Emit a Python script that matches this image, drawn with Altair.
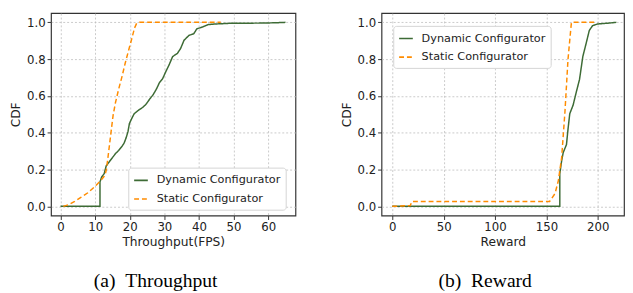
import altair as alt
import pandas as pd

series_names = ["Dynamic Configurator", "Static Configurator"]
line_colors = ["#3d6b35", "#ff8c00"]

# (a) Throughput panel
thr_dyn_x = [0, 11.4, 11.4, 11.9, 12.6, 13.2, 14.0, 15.0, 15.9, 16.8, 17.8, 18.4, 19.0, 19.5,
             19.9, 20.6, 21.3, 22.5, 23.9, 24.8, 25.8, 26.7, 27.7, 28.6, 29.5, 30.5, 31.4,
             32.4, 33.8, 34.7, 35.7, 37.1, 38.5, 39.4, 40.8, 42.7, 44.6, 49.3, 58.7, 62.5, 65.0]
thr_dyn_y = [0, 0, 0.133, 0.16, 0.177, 0.22, 0.24, 0.265, 0.287, 0.304, 0.327, 0.345, 0.375, 0.407,
             0.45, 0.478, 0.504, 0.522, 0.54, 0.557, 0.584, 0.605, 0.637, 0.673, 0.694, 0.735, 0.77,
             0.814, 0.832, 0.858, 0.903, 0.929, 0.938, 0.965, 0.973, 0.988, 0.991, 0.995, 0.996, 0.998, 1.0]
thr_sta_x = [0.8, 2.3, 4.1, 6.0, 7.9, 9.8, 11.7, 12.8, 13.2, 13.7, 14.5, 15.2, 15.9, 16.8,
             17.8, 18.7, 19.7, 20.6, 21.4, 22.0, 22.8, 46.3]
thr_sta_y = [0, 0.009, 0.027, 0.05, 0.074, 0.106, 0.142, 0.168, 0.195, 0.265, 0.389, 0.496, 0.566, 0.637,
             0.708, 0.779, 0.85, 0.912, 0.97, 0.995, 1.0, 1.0]

# (b) Reward panel
rew_dyn_x = [0, 163.0, 163.0, 164.8, 166.3, 169.5, 171.1, 172.7, 175.9, 179.0, 182.2, 185.4,
             188.6, 191.7, 194.9, 199.7, 210.8, 218.0]
rew_dyn_y = [0, 0, 0.177, 0.248, 0.292, 0.336, 0.425, 0.504, 0.549, 0.62, 0.69, 0.814,
             0.885, 0.956, 0.982, 0.991, 0.996, 1.0]
rew_sta_x = [0, 17.5, 19.0, 153.0, 158.4, 161.6, 164.8, 168.0, 171.0, 174.3, 198.0]
rew_sta_y = [0, 0.004, 0.026, 0.026, 0.07, 0.14, 0.265, 0.513, 0.8, 1.0, 1.0]

thr_ticks = [0, 10, 20, 30, 40, 50, 60]
rew_ticks = [0, 50, 100, 150, 200]
cdf_ticks = [0, 0.2, 0.4, 0.6, 0.8, 1.0]


def make_frame(dx, dy, sx, sy):
    rows = []
    for i, (x, y) in enumerate(zip(dx, dy)):
        rows.append({"x": x, "y": y, "series": series_names[0], "order": i})
    for i, (x, y) in enumerate(zip(sx, sy)):
        rows.append({"x": x, "y": y, "series": series_names[1], "order": i})
    return pd.DataFrame(rows)


def panel(df, xtitle, xticks, xdomain, width, caption, lx, ly):
    leg = alt.Legend(
        title=None, orient="none", legendX=lx, legendY=ly,
        symbolType="stroke", symbolSize=196, symbolStrokeWidth=1.6,
        labelFont="DejaVu Sans", labelFontSize=11.5, labelColor="#222",
        labelOffset=8, padding=5, rowPadding=5,
        strokeColor="#d4d4d4", fillColor="white", cornerRadius=3,
    )
    return alt.Chart(df).mark_line(strokeWidth=1.5, clip=True).encode(
        x=alt.X("x:Q", title=xtitle,
                scale=alt.Scale(domain=xdomain, nice=False, zero=False),
                axis=alt.Axis(values=xticks)),
        y=alt.Y("y:Q", title="CDF",
                scale=alt.Scale(domain=[-0.05, 1.05], nice=False, zero=False),
                axis=alt.Axis(values=cdf_ticks, format=".1f")),
        color=alt.Color("series:N", scale=alt.Scale(domain=series_names, range=line_colors), legend=leg),
        strokeDash=alt.StrokeDash("series:N", scale=alt.Scale(domain=series_names, range=[[1, 0], [5, 3]]), legend=leg),
        order="order:Q",
    ).properties(
        width=width, height=207,
        title=alt.TitleParams(
            text=caption, orient="bottom", anchor="middle", dx=-18, offset=40,
            baseline="alphabetic", font="Liberation Serif", fontSize=20,
            fontWeight="normal", color="#000",
        ),
    )


left = panel(make_frame(thr_dyn_x, thr_dyn_y, thr_sta_x, thr_sta_y),
             "Throughput(FPS)", thr_ticks, [-2.75, 67.9], 250, "(a)\u00a0\u00a0Throughput", 79, 158)
right = panel(make_frame(rew_dyn_x, rew_dyn_y, rew_sta_x, rew_sta_y),
              "Reward", rew_ticks, [-10.5, 225.5], 248, "(b)\u00a0\u00a0Reward", 12, 13)

chart = alt.hconcat(left, right, spacing=44).resolve_scale(
    color="independent", strokeDash="independent"
).properties(
    padding={"left": 1, "top": 1, "right": 0, "bottom": 0}
).configure_view(
    stroke="#333", strokeWidth=1.2
).configure_axis(
    grid=True, gridDash=[2, 2], gridColor="#bdbdbd", gridWidth=0.8,
    domain=False, ticks=True, tickColor="#333", tickSize=4, tickWidth=1,
    labelFont="DejaVu Sans", labelFontSize=12, labelColor="#222", labelPadding=2,
    titleFont="DejaVu Sans", titleFontSize=12.5, titleFontWeight="normal", titleColor="#222",
    titlePadding=4,
)

chart.save("out.html", embed_options={"renderer": "svg", "actions": False})
